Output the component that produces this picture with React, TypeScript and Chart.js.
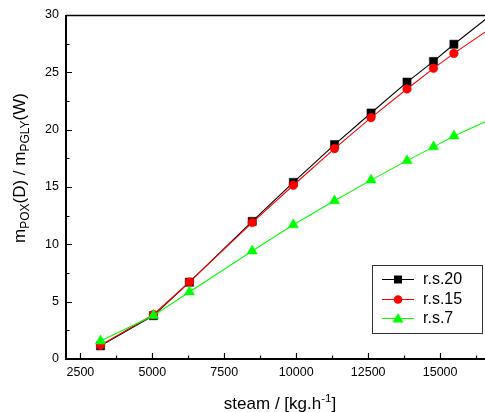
import React, { useEffect, useRef } from 'react';
import { Chart, registerables } from 'chart.js';

Chart.register(...registerables);

// ---- data ----
const steam = [3200, 5040, 6290, 8470, 9900, 11330, 12600, 13850, 14770, 15480, 17200];
const rs20 = [1.15, 3.78, 6.7, 12.0, 15.4, 18.7, 21.45, 24.15, 25.95, 27.45, 30.85];
const rs15 = [1.2, 3.88, 6.72, 11.9, 15.15, 18.35, 21.05, 23.55, 25.35, 26.65, 29.6];
const rs7 = [1.57, 3.8, 5.85, 9.42, 11.7, 13.8, 15.6, 17.3, 18.5, 19.45, 21.4];

const seriesLabels = ['r.s.20', 'r.s.15', 'r.s.7'];
const xTickValues = [2500, 5000, 7500, 10000, 12500, 15000];
const xMinorTicks = [3750, 6250, 8750, 11250, 13750, 16250];
const yTickValues = [0, 5, 10, 15, 20, 25, 30];
const yMinorTicks = [2.5, 7.5, 12.5, 17.5, 22.5, 27.5];

const FONT = '"Liberation Sans", Arial, Helvetica, sans-serif';

const pts = (ys: number[]) => steam.map((x, i) => ({ x, y: ys[i] }));

function drawMarker(ctx: CanvasRenderingContext2D, style: string, x: number, y: number, color: string) {
  ctx.save();
  ctx.fillStyle = color;
  ctx.beginPath();
  if (style === 'rect') {
    ctx.rect(x - 4, y - 4, 8, 8);
  } else if (style === 'circle') {
    ctx.arc(x, y, 4.3, 0, Math.PI * 2);
  } else {
    ctx.moveTo(x, y - 5.5);
    ctx.lineTo(x + 5.5, y + 4);
    ctx.lineTo(x - 5.5, y + 4);
    ctx.closePath();
  }
  ctx.fill();
  ctx.restore();
}

const customDraw = {
  id: 'customDraw',
  afterDraw(chart: any) {
    const ctx: CanvasRenderingContext2D = chart.ctx;
    const xs = chart.scales.x;
    const ys = chart.scales.y;
    const { left, right, top, bottom } = chart.chartArea;
    ctx.save();
    ctx.strokeStyle = '#000';
    ctx.fillStyle = '#000';

    // frame
    ctx.lineWidth = 1.3;
    ctx.beginPath();
    ctx.moveTo(left, top + 0.5);
    ctx.lineTo(right, top + 0.5);
    ctx.stroke();
    ctx.lineWidth = 2;
    ctx.beginPath();
    ctx.moveTo(left, top);
    ctx.lineTo(left, bottom + 1);
    ctx.moveTo(left - 1, bottom);
    ctx.lineTo(right, bottom);
    ctx.stroke();

    // ticks (inward)
    ctx.lineWidth = 1.2;
    ctx.beginPath();
    xTickValues.forEach((v) => {
      const px = Math.round(xs.getPixelForValue(v)) + 0.5;
      ctx.moveTo(px, bottom);
      ctx.lineTo(px, bottom - 6);
    });
    xMinorTicks.forEach((v) => {
      const px = Math.round(xs.getPixelForValue(v)) + 0.5;
      ctx.moveTo(px, bottom);
      ctx.lineTo(px, bottom - 3.5);
    });
    yTickValues.forEach((v) => {
      const py = Math.round(ys.getPixelForValue(v)) + 0.5;
      ctx.moveTo(left, py);
      ctx.lineTo(left + 6, py);
    });
    yMinorTicks.forEach((v) => {
      const py = Math.round(ys.getPixelForValue(v)) + 0.5;
      ctx.moveTo(left, py);
      ctx.lineTo(left + 3.5, py);
    });
    ctx.stroke();

    // tick labels
    ctx.font = `12.5px ${FONT}`;
    ctx.textAlign = 'center';
    ctx.textBaseline = 'middle';
    xTickValues.forEach((v) => {
      ctx.fillText(String(v), xs.getPixelForValue(v), 373);
    });
    ctx.textAlign = 'right';
    yTickValues.forEach((v) => {
      ctx.fillText(String(v), 59, ys.getPixelForValue(v));
    });

    // x title with superscript
    ctx.textBaseline = 'alphabetic';
    ctx.textAlign = 'left';
    const mainF = `17px ${FONT}`;
    const smallF = `11.5px ${FONT}`;
    const xParts: [string, string, number][] = [
      ['steam / [kg.h', mainF, 0],
      ['-1', smallF, -7],
      [']', mainF, 0],
    ];
    let tw = 0;
    xParts.forEach(([t, f]) => { ctx.font = f; tw += ctx.measureText(t).width; });
    let cx = 280 - tw / 2;
    xParts.forEach(([t, f, dy]) => {
      ctx.font = f;
      ctx.fillText(t, cx, 409 + dy);
      cx += ctx.measureText(t).width;
    });

    // y title with subscripts
    const subF = `12px ${FONT}`;
    const yParts: [string, string, number][] = [
      ['m', mainF, 0],
      ['POX', subF, 4],
      ['(D) / m', mainF, 0],
      ['PGLY', subF, 4],
      ['(W)', mainF, 0],
    ];
    tw = 0;
    yParts.forEach(([t, f]) => { ctx.font = f; tw += ctx.measureText(t).width; });
    ctx.save();
    ctx.translate(25, 168);
    ctx.rotate(-Math.PI / 2);
    let lx = -tw / 2;
    yParts.forEach(([t, f, dy]) => {
      ctx.font = f;
      ctx.fillText(t, lx, dy);
      lx += ctx.measureText(t).width;
    });
    ctx.restore();

    // legend
    ctx.fillStyle = '#fff';
    ctx.fillRect(372.5, 265.5, 110, 68);
    ctx.strokeStyle = '#333';
    ctx.lineWidth = 1;
    ctx.strokeRect(372.5, 265.5, 110, 68);
    const rows = [279, 299, 318];
    [0, 1, 2].forEach((di, r) => {
      const ds = chart.data.datasets[di];
      const y = rows[r];
      ctx.strokeStyle = ds.borderColor;
      ctx.lineWidth = 1;
      ctx.beginPath();
      ctx.moveTo(382, y + 0.5);
      ctx.lineTo(414, y + 0.5);
      ctx.stroke();
      drawMarker(ctx, ds.pointStyle, 398, y + 0.5, ds.pointBackgroundColor);
      ctx.fillStyle = '#000';
      ctx.font = `16px ${FONT}`;
      ctx.textAlign = 'left';
      ctx.textBaseline = 'middle';
      ctx.fillText(ds.label, 423, y + 1);
    });

    ctx.restore();
  },
};

export default function App() {
  const ref = useRef<HTMLCanvasElement>(null);
  useEffect(() => {
    document.body.style.margin = '0';
    const chart = new Chart(ref.current as HTMLCanvasElement, {
      type: 'line',
      data: {
        datasets: [
          {
            label: seriesLabels[0],
            data: pts(rs20),
            borderColor: '#000000',
            backgroundColor: '#000000',
            pointBackgroundColor: '#000000',
            pointBorderColor: '#000000',
            pointStyle: 'rect',
            pointRadius: 5.8,
            pointBorderWidth: 0.5,
            borderWidth: 1.1,
            order: 3,
          },
          {
            label: seriesLabels[1],
            data: pts(rs15),
            borderColor: '#ff0000',
            backgroundColor: '#ff0000',
            pointBackgroundColor: '#ff0000',
            pointBorderColor: '#ff0000',
            pointStyle: 'circle',
            pointRadius: 4.3,
            pointBorderWidth: 0.5,
            borderWidth: 1.1,
            order: 2,
          },
          {
            label: seriesLabels[2],
            data: pts(rs7),
            borderColor: '#00ff00',
            backgroundColor: '#00ff00',
            pointBackgroundColor: '#00ff00',
            pointBorderColor: '#00ff00',
            pointStyle: 'triangle',
            pointRadius: 6,
            pointBorderWidth: 0.5,
            borderWidth: 1.1,
            order: 1,
          },
        ],
      } as any,
      options: {
        animation: false,
        responsive: false,
        devicePixelRatio: 1,
        layout: { autoPadding: false, padding: { left: 66, top: 15, right: 0, bottom: 53 } },
        plugins: { legend: { display: false }, tooltip: { enabled: false } },
        scales: {
          x: { type: 'linear', min: 2000, max: 16560, display: false },
          y: { type: 'linear', min: 0, max: 30, display: false },
        },
      } as any,
      plugins: [customDraw],
    });
    return () => chart.destroy();
  }, []);
  return (
    <div style={{ position: 'fixed', left: 0, top: 0, width: 485, height: 412, background: '#fff' }}>
      <canvas ref={ref} width={485} height={412} style={{ width: 485, height: 412, display: 'block' }} />
    </div>
  );
}
